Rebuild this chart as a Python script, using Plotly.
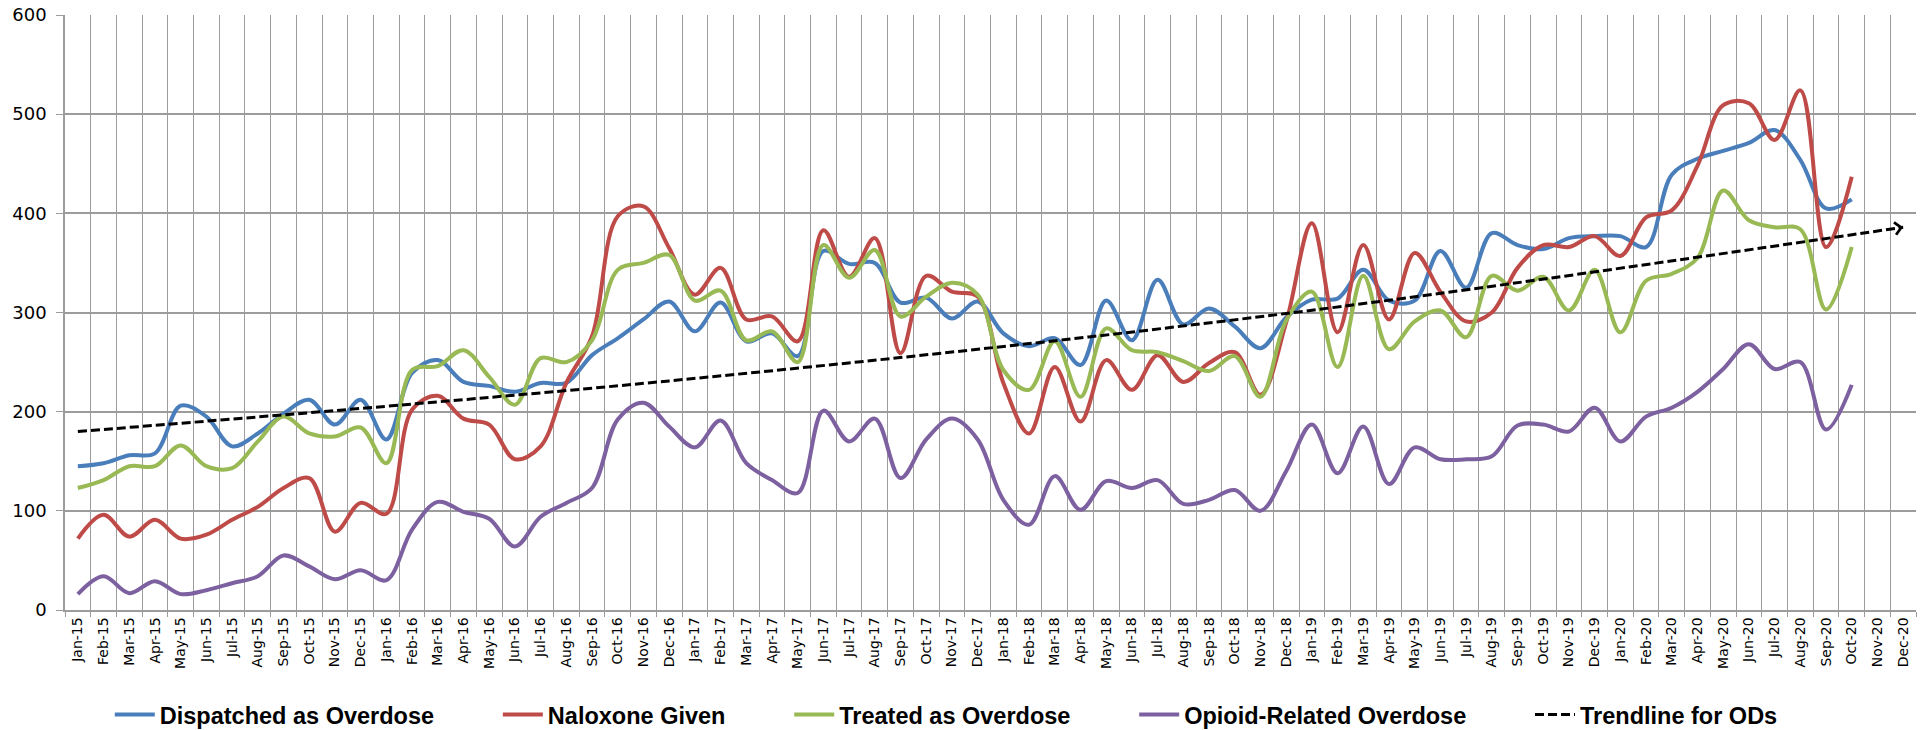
import plotly.graph_objects as go

months = [f"{m}-{y}" for y in ["15", "16", "17", "18", "19", "20"]
          for m in ["Jan", "Feb", "Mar", "Apr", "May", "Jun", "Jul", "Aug", "Sep", "Oct", "Nov", "Dec"]]

dispatched = [145, 148, 156, 158, 206, 195, 165, 178, 198, 212, 187, 212, 172, 239, 252, 230, 226, 220, 229, 229, 257, 274, 293, 311,
              281, 310, 271, 279, 256, 362, 349, 350, 310, 315, 294, 311, 279, 266, 274, 247, 312, 272, 333, 288, 304, 286, 264, 295,
              313, 314, 343, 312, 312, 362, 325, 380, 368, 364, 375, 377, 377, 366, 439, 455, 463, 471, 484, 454, 405, 414]

naloxone = [72, 96, 74, 91, 72, 76, 91, 104, 123, 133, 79, 108, 97, 202, 216, 193, 187, 152, 165, 229, 276, 397, 407, 365,
            318, 345, 293, 296, 271, 383, 336, 375, 259, 337, 321, 316, 229, 178, 245, 190, 252, 222, 257, 230, 249, 260, 217, 290,
            390, 280, 368, 293, 360, 321, 291, 300, 345, 368, 366, 377, 357, 396, 403, 448, 509, 511, 474, 524, 366, 437]

treated = [123, 131, 145, 145, 166, 145, 143, 170, 195, 178, 175, 184, 148, 242, 246, 262, 235, 207, 254, 250, 272, 343, 350, 358,
           312, 322, 272, 281, 250, 368, 335, 363, 296, 316, 330, 318, 242, 222, 271, 215, 284, 262, 260, 251, 241, 256, 215, 292,
           321, 245, 337, 263, 291, 302, 275, 337, 322, 336, 302, 343, 280, 332, 339, 355, 423, 393, 386, 384, 303, 366]

opioid = [16, 34, 17, 29, 16, 20, 27, 34, 55, 44, 31, 40, 30, 81, 109, 99, 92, 64, 94, 108, 123, 192, 209, 185,
          164, 191, 148, 131, 118, 201, 170, 193, 133, 172, 193, 172, 111, 86, 135, 101, 130, 123, 131, 107, 111, 121, 100, 140,
          187, 138, 185, 127, 164, 152, 152, 155, 186, 187, 180, 204, 170, 195, 204, 220, 243, 268, 243, 250, 182, 227]

trend_x = ["Jan-15", "Dec-16", "Dec-18", "Dec-20"]
trend_y = [180, 231, 299, 386]

series = [
    ("Dispatched as Overdose", dispatched, "#4A7EBB"),
    ("Naloxone Given", naloxone, "#BE4B48"),
    ("Treated as Overdose", treated, "#98B954"),
    ("Opioid-Related Overdose", opioid, "#7D60A0"),
]

PAD = "\u00a0" * 9  # spacing between legend entries

fig = go.Figure()
for name, vals, col in series:
    fig.add_trace(go.Scatter(
        x=months[:len(vals)], y=vals, name=name + PAD, mode="lines",
        line=dict(color=col, width=4, shape="spline", smoothing=1.0),
    ))

fig.add_trace(go.Scatter(
    x=trend_x, y=trend_y, name="Trendline for ODs", mode="lines",
    line=dict(color="black", width=3, dash="9px,4px", shape="spline", smoothing=1.0),
))

fig.add_annotation(
    x=trend_x[-1], y=trend_y[-1], xref="x", yref="y", text="",
    showarrow=True, arrowhead=4, arrowsize=1.1, arrowwidth=2.2, arrowcolor="black",
    ax=-6, ay=1, standoff=0,
)

grid = "#9C9C9C"
fig.update_layout(
    width=1929, height=730,
    margin=dict(l=65, r=13, t=15, b=120, autoexpand=False),
    paper_bgcolor="white", plot_bgcolor="white",
    showlegend=True,
    legend=dict(
        orientation="h", x=0.0242, xanchor="left", y=-0.176, yanchor="middle",
        font=dict(family="Liberation Sans", size=23.5, color="black", weight="bold"),
        traceorder="normal", itemwidth=40,
    ),
    xaxis=dict(
        type="category", categoryorder="array", categoryarray=months,
        range=[-0.5, len(months) - 0.5], automargin=False,
        tickmode="array", tickvals=months, ticktext=months,
        tickson="boundaries", ticks="outside", ticklen=5, tickcolor=grid,
        showgrid=True, gridcolor=grid, gridwidth=1,
        showline=True, linecolor=grid, linewidth=1.5,
        tickangle=-90, tickfont=dict(family="DejaVu Sans", size=14, color="black"),
    ),
    yaxis=dict(
        range=[0, 600], dtick=100, tick0=0, automargin=False,
        showgrid=True, gridcolor=grid, gridwidth=1.5,
        showline=True, linecolor=grid, linewidth=1.5,
        ticks="outside", ticklen=7, tickcolor=grid,
        zeroline=False, ticklabelstandoff=6,
        tickfont=dict(family="DejaVu Sans", size=18, color="black"),
    ),
)

fig.write_html(
    "out.html",
    config={"displayModeBar": False},
    post_script="document.body.style.margin='0';document.body.style.overflow='hidden';",
)
